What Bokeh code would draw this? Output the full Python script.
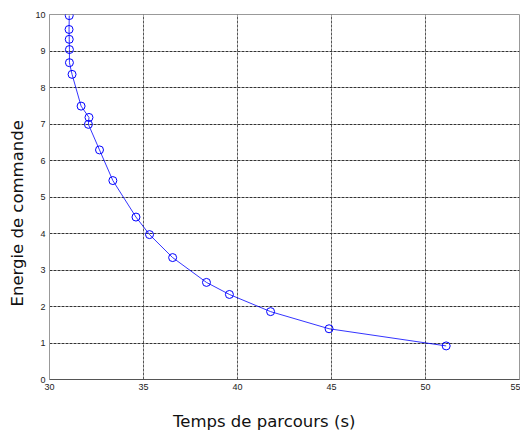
from bokeh.plotting import figure
from bokeh.models import FixedTicker, Range1d, Title
from bokeh.embed import file_html
from bokeh.resources import INLINE

temps = [31.05, 31.04, 31.05, 31.06, 31.06, 31.2, 31.68, 32.1, 32.07, 32.66,
         33.37, 34.6, 35.32, 36.55, 38.35, 39.57, 41.76, 44.87, 51.1]
energie = [9.97, 9.59, 9.32, 9.04, 8.68, 8.36, 7.49, 7.18, 6.99, 6.29,
           5.45, 4.45, 3.97, 3.34, 2.66, 2.33, 1.86, 1.39, 0.92]
x_ticks = [30, 35, 40, 45, 50, 55]
y_ticks = [0, 1, 2, 3, 4, 5, 6, 7, 8, 9, 10]
x_title = "Temps de parcours (s)"
y_title = "Energie de commande"

p = figure(width=520, height=432, output_backend="svg", toolbar_location=None,
           x_range=Range1d(30, 55), y_range=Range1d(0, 10),
           min_border_left=49, min_border_right=1, min_border_top=14, min_border_bottom=53)

p.line(temps, energie, line_color="#0000ff", line_width=0.8)
p.scatter(temps, energie, size=8, marker="circle", fill_color=None,
          line_color="#0000ff", line_width=1)

p.xaxis.ticker = FixedTicker(ticks=x_ticks)
p.yaxis.ticker = FixedTicker(ticks=y_ticks)

for ax in (p.xaxis[0], p.yaxis[0]):
    ax.major_tick_in = 0
    ax.major_tick_out = 0
    ax.minor_tick_in = 0
    ax.minor_tick_out = 0
    ax.major_label_text_font = "Liberation Sans"
    ax.major_label_text_font_size = "9px"
    ax.major_label_text_color = "#222222"
    ax.major_label_standoff = 4

p.xaxis.axis_line_color = "#555555"
p.yaxis.axis_line_color = "#999999"

# axis titles (offset like in the original figure)
xt = Title(text=x_title, align="left", offset=123.5, vertical_align="top", standoff=0,
           padding=(0, 0, 19, 0),
           text_font="DejaVu Sans", text_font_size="16.5px", text_font_style="normal",
           text_color="#111111")
yt = Title(text=y_title, align="left", offset=73, vertical_align="top", standoff=8,
           text_font="DejaVu Sans", text_font_size="16.5px", text_font_style="normal",
           text_color="#111111")
p.add_layout(xt, "below")
p.add_layout(yt, "left")

p.outline_line_color = "#999999"
p.outline_line_width = 1

p.xgrid.grid_line_color = "#555555"
p.ygrid.grid_line_color = "#333333"
p.xgrid.grid_line_dash = "3 1"
p.ygrid.grid_line_dash = "3 1"
p.xgrid.grid_line_width = 1
p.ygrid.grid_line_width = 1

p.background_fill_color = "white"
p.border_fill_color = "white"

open("out.html", "w").write(file_html(p, INLINE))
